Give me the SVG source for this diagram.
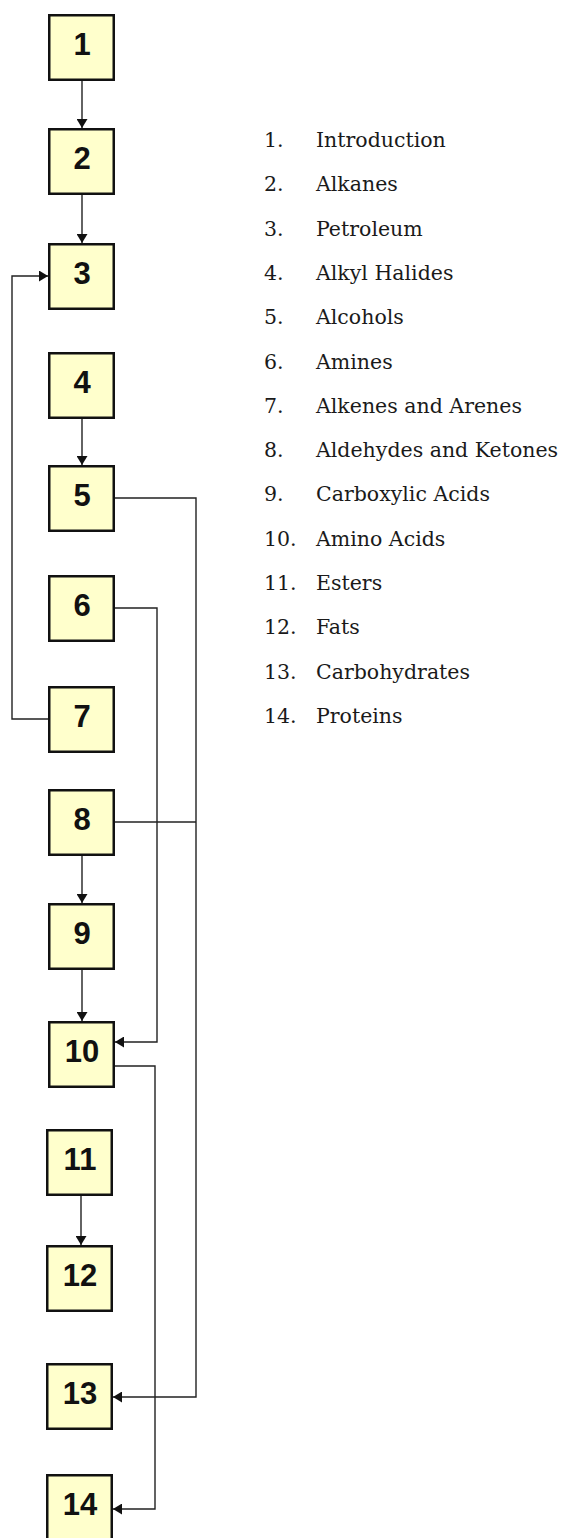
<svg xmlns="http://www.w3.org/2000/svg" width="565" height="1538" viewBox="0 0 565 1538">
<style>
.box{fill:#FFFFCC;stroke:#111;stroke-width:2.5}
.num{font-family:"Liberation Sans",Arial,sans-serif;font-weight:bold;font-size:31px;fill:#111;text-anchor:middle}
.ln{fill:none;stroke:#222;stroke-width:1.4}
.li{font-family:"DejaVu Serif","Liberation Serif",serif;font-size:20.5px;fill:#1a1a1a}
</style>
<defs>
<marker id="ah" viewBox="0 0 9 11" refX="9" refY="5.5" markerWidth="9" markerHeight="11" markerUnits="userSpaceOnUse" orient="auto">
<path d="M0,0 L9,5.5 L0,11 z" fill="#111"/>
</marker>
</defs>
<rect width="565" height="1538" fill="#fff"/>
<g id="connectors">
<line class="ln" x1="82" y1="80" x2="82" y2="128" marker-end="url(#ah)"/>
<line class="ln" x1="82" y1="194" x2="82" y2="243" marker-end="url(#ah)"/>
<polyline class="ln" points="48,719 12,719 12,276 48,276" marker-end="url(#ah)"/>
<line class="ln" x1="82" y1="418" x2="82" y2="465" marker-end="url(#ah)"/>
<polyline class="ln" points="115,498 196,498 196,1397 113,1397" marker-end="url(#ah)"/>
<line class="ln" x1="115" y1="822" x2="196" y2="822"/>
<polyline class="ln" points="115,608 157,608 157,1042 115,1042" marker-end="url(#ah)"/>
<line class="ln" x1="82" y1="855" x2="82" y2="903" marker-end="url(#ah)"/>
<line class="ln" x1="82" y1="969" x2="82" y2="1021" marker-end="url(#ah)"/>
<polyline class="ln" points="115,1066 155,1066 155,1509 113,1509" marker-end="url(#ah)"/>
<line class="ln" x1="81" y1="1195" x2="81" y2="1245" marker-end="url(#ah)"/>
</g>
<g id="n1"><rect class="box" x="49.25" y="15.25" width="64.5" height="64.5"/><text class="num" x="82" y="55">1</text></g>
<g id="n2"><rect class="box" x="49.25" y="129.25" width="64.5" height="64.5"/><text class="num" x="82" y="169">2</text></g>
<g id="n3"><rect class="box" x="49.25" y="244.25" width="64.5" height="64.5"/><text class="num" x="82" y="284">3</text></g>
<g id="n4"><rect class="box" x="49.25" y="353.25" width="64.5" height="64.5"/><text class="num" x="82" y="393">4</text></g>
<g id="n5"><rect class="box" x="49.25" y="466.25" width="64.5" height="64.5"/><text class="num" x="82" y="506">5</text></g>
<g id="n6"><rect class="box" x="49.25" y="576.25" width="64.5" height="64.5"/><text class="num" x="82" y="616">6</text></g>
<g id="n7"><rect class="box" x="49.25" y="687.25" width="64.5" height="64.5"/><text class="num" x="82" y="727">7</text></g>
<g id="n8"><rect class="box" x="49.25" y="790.25" width="64.5" height="64.5"/><text class="num" x="82" y="830">8</text></g>
<g id="n9"><rect class="box" x="49.25" y="904.25" width="64.5" height="64.5"/><text class="num" x="82" y="944">9</text></g>
<g id="n10"><rect class="box" x="49.25" y="1022.25" width="64.5" height="64.5"/><text class="num" x="82" y="1062">10</text></g>
<g id="n11"><rect class="box" x="47.25" y="1130.25" width="64.5" height="64.5"/><text class="num" x="80" y="1170">11</text></g>
<g id="n12"><rect class="box" x="47.25" y="1246.25" width="64.5" height="64.5"/><text class="num" x="80" y="1286">12</text></g>
<g id="n13"><rect class="box" x="47.25" y="1364.25" width="64.5" height="64.5"/><text class="num" x="80" y="1404">13</text></g>
<g id="n14"><rect class="box" x="47.25" y="1475.25" width="64.5" height="64.5"/><text class="num" x="80" y="1515">14</text></g>
<g id="legend">
<text class="li" x="264" y="147">1.</text><text class="li" x="316" y="147">Introduction</text>
<text class="li" x="264" y="191.3">2.</text><text class="li" x="316" y="191.3">Alkanes</text>
<text class="li" x="264" y="235.6">3.</text><text class="li" x="316" y="235.6">Petroleum</text>
<text class="li" x="264" y="279.9">4.</text><text class="li" x="316" y="279.9">Alkyl Halides</text>
<text class="li" x="264" y="324.2">5.</text><text class="li" x="316" y="324.2">Alcohols</text>
<text class="li" x="264" y="368.5">6.</text><text class="li" x="316" y="368.5">Amines</text>
<text class="li" x="264" y="412.8">7.</text><text class="li" x="316" y="412.8">Alkenes and Arenes</text>
<text class="li" x="264" y="457.1">8.</text><text class="li" x="316" y="457.1">Aldehydes and Ketones</text>
<text class="li" x="264" y="501.4">9.</text><text class="li" x="316" y="501.4">Carboxylic Acids</text>
<text class="li" x="264" y="545.7">10.</text><text class="li" x="316" y="545.7">Amino Acids</text>
<text class="li" x="264" y="590">11.</text><text class="li" x="316" y="590">Esters</text>
<text class="li" x="264" y="634.3">12.</text><text class="li" x="316" y="634.3">Fats</text>
<text class="li" x="264" y="678.6">13.</text><text class="li" x="316" y="678.6">Carbohydrates</text>
<text class="li" x="264" y="722.9">14.</text><text class="li" x="316" y="722.9">Proteins</text>
</g>
</svg>
